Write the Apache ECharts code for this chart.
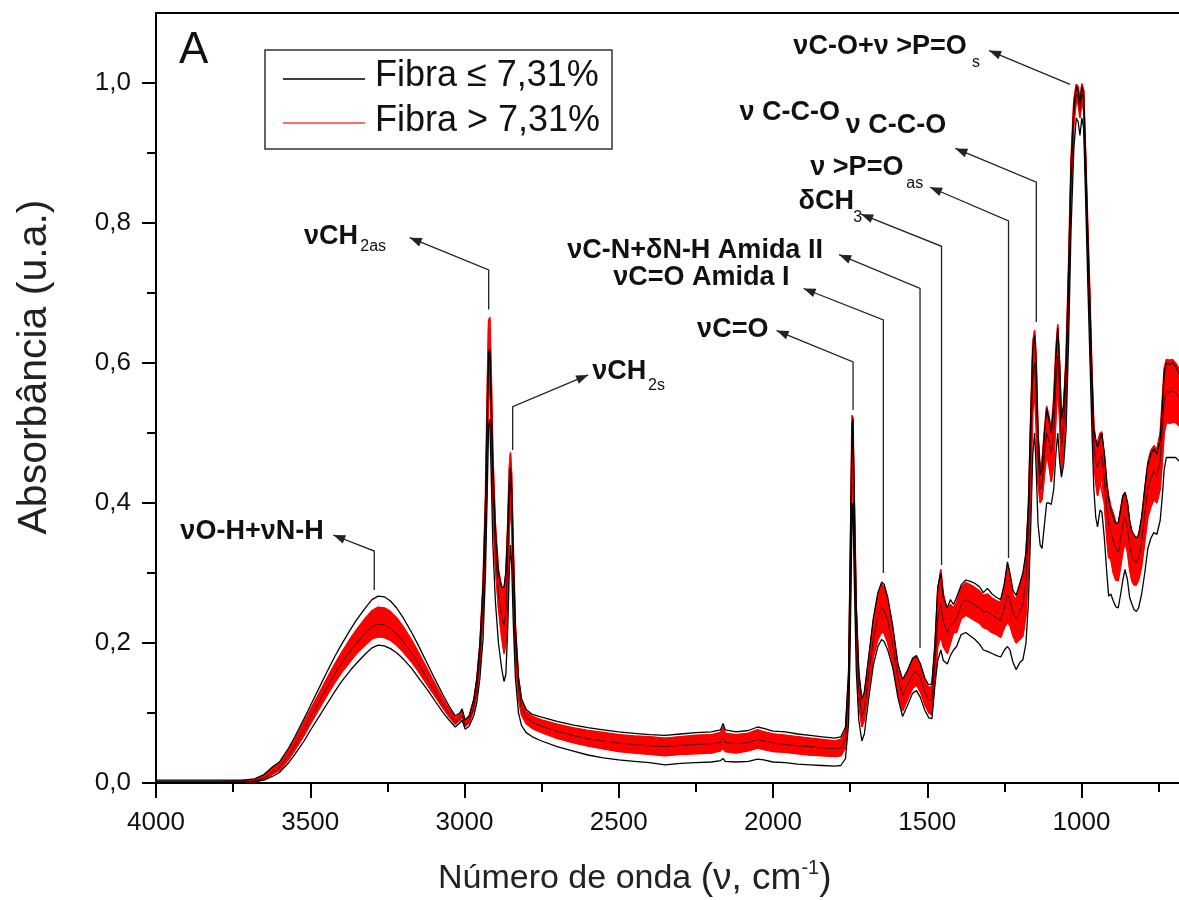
<!DOCTYPE html>
<html>
<head>
<meta charset="utf-8">
<script src="https://cdn.jsdelivr.net/npm/echarts@6/dist/echarts.min.js"></script>
<style>html,body{margin:0;padding:0;background:#fff}#c{width:1179px;height:900px}</style>
</head>
<body>
<div id="c"></div>
<script>
// ---- data (wavenumber, cm-1) ----
const wavenumber = [
4000,3900,3800,3720,3680,3650,3620,3600,3570,3550,
3520,3500,3470,3450,3420,3400,3370,3350,3320,3300,
3280,3260,3240,3220,3200,3170,3150,3120,3100,3070,
3050,3030,3015,3008,2998,2985,2970,2960,2950,2940,
2932,2926,2922,2918,2914,2908,2900,2890,2880,2872,
2866,2860,2855,2851,2847,2842,2835,2825,2815,2800,
2780,2750,2700,2650,2600,2550,2500,2450,2400,2350,
2300,2250,2200,2170,2162,2155,2120,2080,2050,2030,
2000,1960,1920,1880,1840,1800,1780,1765,1755,1749,
1744,1741,1737,1730,1722,1712,1704,1690,1675,1660,
1648,1640,1628,1612,1595,1580,1565,1548,1535,1522,
1508,1495,1485,1475,1466,1456,1448,1435,1425,1415,
1405,1390,1375,1360,1345,1330,1318,1305,1290,1275,
1262,1250,1240,1232,1222,1212,1200,1190,1180,1172,
1165,1158,1152,1147,1141,1134,1128,1120,1113,1106,
1098,1090,1083,1077,1071,1065,1058,1050,1042,1034,
1025,1017,1011,1005,999,993,987,980,973,966,
960,954,948,940,934,926,918,912,905,897,
889,881,873,866,859,851,844,837,830,822,
815,805,795,785,775,765,756,745,738,732,
725,715,705,695,684];

// Fibra <= 7,31% (black spectra): upper, lower and a middle spectrum
const fibraLowTop = [
.004,.004,.004,.004,.006,.012,.024,.030,.050,.066,
.092,.110,.137,.155,.181,.197,.219,.233,.251,.262,
.267,.266,.260,.250,.237,.214,.197,.170,.152,.126,
.110,.096,.100,.106,.090,.096,.120,.150,.200,.280,
.400,.540,.615,.620,.560,.450,.360,.300,.280,.280,
.300,.360,.430,.450,.420,.330,.220,.150,.120,.105,
.098,.094,.088,.083,.079,.076,.073,.071,.069,.068,
.070,.072,.073,.076,.085,.076,.073,.075,.080,.078,
.074,.073,.070,.068,.066,.064,.066,.080,.160,.350,
.510,.520,.420,.250,.160,.120,.130,.180,.235,.272,
.287,.284,.265,.225,.170,.148,.160,.178,.182,.170,
.150,.140,.142,.200,.280,.300,.265,.250,.262,.255,
.265,.283,.290,.288,.285,.280,.272,.278,.270,.265,
.262,.285,.316,.300,.275,.268,.285,.300,.330,.400,
.520,.620,.640,.600,.500,.440,.450,.500,.535,.520,
.500,.540,.610,.650,.600,.520,.540,.600,.730,.880,
.965,.995,.990,.970,.995,.985,.900,.790,.690,.580,
.505,.490,.480,.492,.500,.470,.430,.405,.390,.380,
.370,.372,.390,.410,.415,.400,.375,.360,.355,.350,
.355,.380,.420,.455,.470,.478,.470,.490,.540,.585,
.600,.598,.600,.595,.585];
const fibraLowBottom = [
.001,.001,.001,.001,.002,.004,.010,.015,.029,.041,
.060,.075,.096,.110,.131,.144,.161,.171,.185,.193,
.197,.196,.192,.186,.178,.163,.151,.133,.120,.101,
.090,.080,.086,.090,.077,.081,.096,.115,.150,.205,
.300,.420,.510,.520,.450,.340,.260,.200,.165,.145,
.155,.220,.300,.340,.310,.230,.150,.100,.082,.072,
.066,.060,.052,.046,.040,.036,.033,.031,.029,.026,
.028,.029,.030,.032,.035,.031,.030,.031,.034,.033,
.030,.029,.027,.026,.025,.024,.025,.035,.085,.220,
.380,.400,.300,.160,.090,.060,.070,.120,.168,.195,
.205,.202,.190,.165,.122,.095,.110,.128,.132,.122,
.104,.093,.092,.140,.175,.190,.175,.170,.182,.190,
.195,.212,.215,.210,.205,.198,.190,.188,.185,.182,
.180,.190,.195,.190,.172,.162,.172,.176,.200,.260,
.360,.470,.500,.450,.370,.340,.335,.370,.400,.400,
.398,.420,.470,.500,.460,.437,.455,.505,.630,.790,
.905,.950,.945,.925,.950,.935,.840,.720,.610,.500,
.420,.380,.366,.390,.387,.350,.300,.267,.270,.260,
.252,.250,.270,.290,.305,.290,.265,.256,.248,.245,
.250,.270,.300,.335,.350,.358,.355,.375,.410,.448,
.465,.465,.465,.465,.460];
const fibraLowMid = [
.002,.002,.002,.002,.003,.007,.016,.022,.040,.054,
.076,.093,.117,.133,.156,.170,.189,.200,.215,.223,
.227,.226,.221,.213,.203,.185,.171,.149,.134,.112,
.099,.087,.092,.097,.083,.088,.108,.134,.180,.255,
.370,.510,.600,.610,.540,.430,.335,.270,.240,.225,
.245,.320,.400,.430,.400,.300,.200,.135,.108,.094,
.087,.081,.074,.068,.063,.060,.057,.055,.053,.052,
.054,.055,.056,.058,.063,.058,.056,.058,.062,.060,
.057,.055,.053,.052,.050,.049,.050,.062,.130,.300,
.480,.490,.380,.225,.135,.095,.105,.155,.205,.238,
.250,.247,.232,.198,.150,.125,.138,.155,.160,.150,
.130,.118,.118,.172,.235,.255,.230,.215,.225,.230,
.235,.255,.262,.258,.254,.250,.244,.245,.240,.236,
.232,.250,.270,.262,.243,.235,.245,.255,.290,.360,
.470,.580,.600,.560,.470,.420,.425,.470,.500,.490,
.470,.500,.570,.610,.560,.480,.510,.575,.705,.860,
.955,.985,.980,.960,.985,.975,.885,.780,.675,.560,
.485,.460,.450,.465,.468,.435,.390,.370,.360,.345,
.335,.330,.350,.370,.380,.365,.340,.325,.318,.315,
.320,.345,.385,.420,.435,.445,.438,.460,.505,.545,
.560,.558,.560,.558,.550];
// Fibra > 7,31% (red spectra): upper and lower spectrum of the group
const fibraHighTop = [
.002,.002,.002,.003,.005,.011,.022,.028,.047,.062,
.087,.104,.129,.146,.170,.185,.206,.219,.236,.246,
.251,.250,.245,.236,.224,.203,.187,.162,.145,.121,
.106,.093,.098,.104,.088,.094,.117,.147,.198,.285,
.410,.570,.660,.665,.600,.470,.370,.305,.280,.275,
.300,.370,.450,.472,.440,.340,.225,.150,.118,.102,
.095,.090,.084,.079,.075,.072,.069,.067,.066,.064,
.066,.068,.069,.072,.080,.071,.069,.071,.076,.073,
.070,.068,.066,.064,.062,.060,.062,.075,.150,.340,
.525,.522,.420,.250,.155,.115,.125,.175,.230,.268,
.284,.280,.260,.220,.165,.145,.158,.176,.180,.168,
.146,.136,.138,.195,.275,.305,.270,.245,.255,.250,
.258,.280,.286,.283,.279,.274,.268,.270,.264,.260,
.258,.280,.312,.295,.268,.262,.280,.296,.325,.395,
.515,.630,.647,.610,.500,.450,.460,.505,.538,.525,
.505,.550,.620,.655,.600,.515,.540,.610,.740,.890,
.975,.998,.995,.975,.999,.990,.905,.800,.700,.585,
.510,.490,.486,.500,.502,.470,.425,.410,.395,.385,
.372,.370,.392,.410,.415,.400,.372,.360,.352,.348,
.352,.378,.420,.458,.475,.482,.476,.500,.548,.592,
.605,.604,.605,.600,.592];
const fibraHighBottom = [
.001,.001,.001,.001,.002,.005,.013,.018,.034,.047,
.068,.084,.107,.122,.144,.157,.174,.185,.198,.206,
.209,.208,.204,.197,.188,.172,.160,.140,.127,.107,
.095,.084,.090,.095,.081,.086,.104,.128,.170,.240,
.340,.470,.560,.575,.510,.400,.310,.250,.210,.185,
.200,.270,.360,.400,.370,.280,.180,.120,.097,.085,
.078,.072,.064,.058,.053,.049,.045,.043,.041,.039,
.041,.042,.043,.046,.050,.045,.043,.046,.050,.048,
.045,.044,.042,.040,.039,.038,.039,.050,.110,.270,
.440,.450,.350,.200,.115,.080,.090,.135,.180,.205,
.216,.214,.200,.172,.130,.103,.118,.135,.140,.130,
.112,.100,.098,.150,.195,.210,.195,.185,.200,.215,
.215,.235,.240,.236,.232,.228,.222,.220,.215,.212,
.208,.222,.230,.225,.210,.200,.205,.210,.240,.310,
.420,.530,.560,.510,.430,.400,.405,.440,.470,.455,
.430,.455,.520,.570,.520,.445,.480,.545,.680,.840,
.940,.975,.970,.950,.975,.960,.870,.760,.650,.540,
.460,.430,.410,.430,.432,.400,.350,.322,.320,.300,
.290,.289,.310,.330,.344,.330,.305,.289,.283,.283,
.290,.310,.345,.380,.395,.405,.400,.420,.460,.500,
.515,.514,.515,.515,.510];

// ---- axes ticks ----
const xTickValues = [4000,3500,3000,2500,2000,1500,1000];
const xMinorTickValues = [3750,3250,2750,2250,1750,1250,750];
const yTickValues = [0,0.2,0.4,0.6,0.8,1.0];
const yMinorTickValues = [0.1,0.3,0.5,0.7,0.9];
const legendNames = ['Fibra \u2264 7,31%','Fibra > 7,31%'];

// ---- band assignments (data coordinates: wavenumber, absorbance) ----
const bandLabels = ['\u03bdO-H+\u03bdN-H','\u03bdCH','\u03bdCH','\u03bdC=O','\u03bdC=O Amida I','\u03bdC-N+\u03b4N-H Amida II','\u03b4CH','\u03bd >P=O','\u03bd C-C-O','\u03bd C-C-O','\u03bdC-O+\u03bd >P=O'];
const bandLabelAt = [[3921,0.3586],[3520,0.780],[2586,0.5871],[2246,0.6471],[2518,0.7214],[2667,0.760],[1917,0.8306],[1879,0.8789],[2109,0.9583],[1764,0.939],[1934,1.0523]];
const bandSubs = ['2as','2s','3','as','s'];
const bandSubAt = [[3338,0.7657],[2405,0.5671],[1740,0.8076],[1568,0.8557],[1355,1.0293]];
const pointerPaths = [
 [[3292.6,0.2757],[3292.6,0.3314],[3425.5,0.3543]],
 [[2921.6,0.6764],[2921.6,0.7329],[3177.6,0.779]],
 [[2843.8,0.4757],[2843.8,0.5376],[2599.2,0.5829]],
 [[1740.5,0.5329],[1740.5,0.6014],[1988.4,0.6463]],
 [[1642.3,0.300],[1642.3,0.6614],[1900.9,0.7064]],
 [[1523.4,0.1929],[1523.4,0.7064],[1785.8,0.7547]],
 [[1453.7,0.3114],[1453.7,0.7667],[1714.5,0.8126]],
 [[1236.6,0.3214],[1236.6,0.8029],[1490.9,0.8511]],
 [[1146.5,0.6586],[1146.5,0.8583],[1409.0,0.9066]],
 [[1037.3,0.9981],[1299.7,1.0463]]
];

const FONT = "'Liberation Sans', Arial, Helvetica, sans-serif";
const pairs = arr => wavenumber.map((w, i) => [w, arr[i]]);

const chart = echarts.init(document.getElementById('c'), null, {renderer: 'canvas'});

const xCommon = {type: 'value', inverse: true, min: 684, max: 4000, splitLine: {show: false}};
const yCommon = {type: 'value', min: 0, max: 1.1, splitLine: {show: false}};

const lineSeries = (name, arr, color, width, z, opacity) => ({
  type: 'line', name: name, data: pairs(arr), xAxisIndex: 0, yAxisIndex: 0,
  symbol: 'none', showSymbol: false, silent: true, z: z,
  lineStyle: {color: color, width: width, opacity: opacity == null ? 1 : opacity}, itemStyle: {color: color}
});

chart.setOption({
  animation: false,
  backgroundColor: '#ffffff',
  grid: [
    {left: 156, top: 13, right: 0, bottom: 117, show: false},
    {left: 156, top: 13, right: 0, bottom: 117, show: false}
  ],
  xAxis: [
    Object.assign({}, xCommon, {gridIndex: 0, position: 'bottom',
      axisLine: {show: true, onZero: false, lineStyle: {color: '#000', width: 2}},
      axisTick: {show: true, inside: false, length: 15, customValues: xTickValues, lineStyle: {color: '#000', width: 2}},
      axisLabel: {show: true, customValues: xTickValues, margin: 27, fontSize: 26, color: '#111', fontFamily: FONT,
        formatter: v => String(Math.round(v))}}),
    Object.assign({}, xCommon, {gridIndex: 1, position: 'bottom',
      axisLine: {show: false}, axisTick: {show: true, length: 9, customValues: xMinorTickValues, lineStyle: {color: '#000', width: 2}},
      axisLabel: {show: false}}),
    Object.assign({}, xCommon, {gridIndex: 0, position: 'top',
      axisLine: {show: true, onZero: false, lineStyle: {color: '#000', width: 2}},
      axisTick: {show: false}, axisLabel: {show: false}})
  ],
  yAxis: [
    Object.assign({}, yCommon, {gridIndex: 0, position: 'left',
      axisLine: {show: true, onZero: false, lineStyle: {color: '#000', width: 2}},
      axisTick: {show: true, inside: false, length: 14, customValues: yTickValues, lineStyle: {color: '#000', width: 2}},
      axisLabel: {show: true, customValues: yTickValues, margin: 25, fontSize: 26, color: '#111', fontFamily: FONT,
        formatter: v => v.toFixed(1).replace('.', ',')}}),
    Object.assign({}, yCommon, {gridIndex: 1, position: 'left',
      axisLine: {show: false}, axisTick: {show: true, length: 9, customValues: yMinorTickValues, lineStyle: {color: '#000', width: 2}},
      axisLabel: {show: false}})
  ],
  series: [
    {
      type: 'custom', name: legendNames[1], xAxisIndex: 0, yAxisIndex: 0, clip: true, silent: true, z: 2,
      data: [[2000, 0.5]],
      renderItem: function (params, api) {
        const pts = [];
        for (let i = 0; i < wavenumber.length; i++) pts.push(api.coord([wavenumber[i], fibraHighTop[i]]));
        for (let i = wavenumber.length - 1; i >= 0; i--) pts.push(api.coord([wavenumber[i], fibraHighBottom[i]]));
        return {type: 'polygon', shape: {points: pts}, style: {fill: '#ff0000', stroke: '#ff0000', lineWidth: 1}};
      }
    },
    lineSeries(legendNames[1], fibraHighTop, '#ff0000', 1.6, 3),
    lineSeries(legendNames[1], fibraHighBottom, '#ff0000', 1.6, 3),
    lineSeries(legendNames[0], fibraLowTop, '#000000', 1.3, 4),
    lineSeries(legendNames[0], fibraLowBottom, '#000000', 1.3, 4),
    lineSeries(legendNames[0], fibraLowMid, '#000000', 0.9, 4, 0.75)
  ]
});

// ---- overlay: annotations, legend, titles ----
const toPx = p => chart.convertToPixel({gridIndex: 0}, p);
const graphics = [];
const ink = '#222';

pointerPaths.forEach(path => {
  const pts = path.map(toPx);
  graphics.push({type: 'polyline', silent: true, z: 50, shape: {points: pts}, style: {stroke: ink, lineWidth: 1.3, fill: null}});
  const tip = pts[pts.length - 1], prev = pts[pts.length - 2];
  const dx = tip[0] - prev[0], dy = tip[1] - prev[1], len = Math.hypot(dx, dy);
  const ux = dx / len, uy = dy / len, L = 12, W = 4.5;
  graphics.push({type: 'polygon', silent: true, z: 51, shape: {points: [
    tip, [tip[0] - L * ux - W * uy, tip[1] - L * uy + W * ux], [tip[0] - L * ux + W * uy, tip[1] - L * uy - W * ux]
  ]}, style: {fill: ink}});
});

bandLabels.forEach((t, i) => {
  const p = toPx(bandLabelAt[i]);
  graphics.push({type: 'text', silent: true, z: 52, x: p[0], y: p[1],
    style: {text: t, fill: '#111', font: 'bold 27px ' + FONT, align: 'left', verticalAlign: 'middle'}});
});
bandSubs.forEach((t, i) => {
  const p = toPx(bandSubAt[i]);
  graphics.push({type: 'text', silent: true, z: 52, x: p[0], y: p[1],
    style: {text: t, fill: '#111', font: '16px ' + FONT, align: 'left', verticalAlign: 'middle'}});
});

// panel letter
graphics.push({type: 'text', silent: true, z: 52, x: 179, y: 51,
  style: {text: 'A', fill: '#111', font: '44px ' + FONT, align: 'left', verticalAlign: 'middle'}});

// legend box
graphics.push({type: 'rect', silent: true, z: 60, shape: {x: 265, y: 50, width: 347, height: 99},
  style: {fill: '#fff', stroke: '#333', lineWidth: 1.5}});
graphics.push({type: 'line', silent: true, z: 61, shape: {x1: 283, y1: 79, x2: 365, y2: 79}, style: {stroke: '#000', lineWidth: 1.5}});
graphics.push({type: 'line', silent: true, z: 61, shape: {x1: 283, y1: 123, x2: 365, y2: 123}, style: {stroke: '#ff3b3b', lineWidth: 1.5}});
graphics.push({type: 'text', silent: true, z: 61, x: 375, y: 76,
  style: {text: legendNames[0], fill: '#111', font: '36px ' + FONT, align: 'left', verticalAlign: 'middle'}});
graphics.push({type: 'text', silent: true, z: 61, x: 375, y: 121,
  style: {text: legendNames[1], fill: '#111', font: '36px ' + FONT, align: 'left', verticalAlign: 'middle'}});

// axis titles
graphics.push({type: 'text', silent: true, z: 52, x: 35, y: 367, rotation: Math.PI / 2,
  style: {text: 'Absorb\u00e2ncia (u.a.)', fill: '#222', font: '41px ' + FONT, align: 'center', verticalAlign: 'middle'}});
graphics.push({type: 'text', silent: true, z: 52, x: 438, y: 879,
  style: {text: '{a|N\u00famero de onda }{b|(\u03bd, cm}{c|-1}{b|)}', align: 'left', verticalAlign: 'middle',
    rich: {
      a: {fontSize: 34, fontFamily: FONT, fill: '#222', lineHeight: 42, verticalAlign: 'middle'},
      b: {fontSize: 37, fontFamily: FONT, fill: '#222', lineHeight: 42, verticalAlign: 'middle'},
      c: {fontSize: 20, fontFamily: FONT, fill: '#222', lineHeight: 20, verticalAlign: 'top'}
    }}});

chart.setOption({graphic: {elements: graphics}});
</script>
</body>
</html>
